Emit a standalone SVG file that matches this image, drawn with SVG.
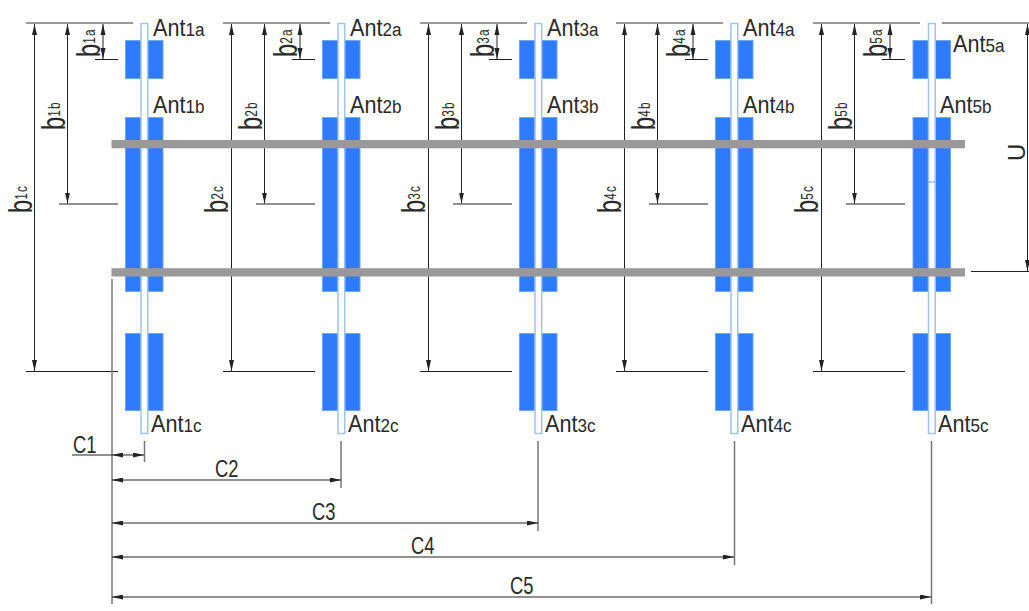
<svg xmlns="http://www.w3.org/2000/svg" width="1029" height="611" viewBox="0 0 1029 611">
<style>
text{font-family:"Liberation Sans",Arial,sans-serif;fill:#2a2a2a}
.a{font-size:24px}.s{font-size:19px}
.b{font-size:34px}.u{font-size:17px;letter-spacing:1.5px}
.c{font-size:23px}
.bl{fill:#2f7bff;stroke:#6ea5ff;stroke-width:1}
.st{fill:#fff;stroke:#9cc2ff;stroke-width:1.5}
.bar{fill:#999}
.e{stroke:#222;stroke-width:1;fill:none}
.g{stroke:#777;stroke-width:1.5;fill:none}
.d{stroke:#222;stroke-width:1;fill:none;marker-start:url(#ms);marker-end:url(#me)}
</style>
<defs>
<marker id="me" markerUnits="userSpaceOnUse" markerWidth="12" markerHeight="6" refX="11" refY="2.5" orient="auto"><path d="M0 0L11 2.5L0 5Z" fill="#222"/></marker>
<marker id="ms" markerUnits="userSpaceOnUse" markerWidth="12" markerHeight="6" refX="0" refY="2.5" orient="auto"><path d="M11 0L0 2.5L11 5Z" fill="#222"/></marker>
<g id="col">
<rect class="bl" x="125.5" y="40.5" width="37.5" height="38"/>
<rect class="bl" x="125.5" y="117.5" width="37.5" height="174"/>
<rect class="bl" x="125.5" y="333.5" width="37.5" height="77"/>
<rect class="st" x="141" y="23.5" width="6.7" height="410"/>
</g>
<g id="dim">
<path class="g" d="M26 23H133"/>
<path class="e" d="M95 59.5H118M59 204H118M26 371.5H118"/>
<path class="d" d="M103 24V59"/>
<path class="d" d="M67.5 24V203.5"/>
<path class="d" d="M34.5 24V371"/>
</g>
</defs>

<g id="connectors">
<use href="#dim"/>
<use href="#dim" x="197"/>
<use href="#dim" x="394"/>
<use href="#dim" x="590"/>
<use href="#dim" x="787"/>
<path class="g" d="M942 23H1029"/>
<path class="e" d="M971 271.5H1029"/>
<path class="d" d="M1027.5 24V271"/>
<path class="g" d="M112 279V604"/>
<path class="g" d="M144.5 441V462M341 441V488M538 441V531M734.5 441V565M931.5 441V604"/>
<path class="e" d="M72 455H112"/>
<path class="d" d="M112 455H144"/>
<path class="d" d="M112 480H341"/>
<path class="d" d="M112 523H538"/>
<path class="d" d="M112 557H734"/>
<path class="d" d="M112 597H931"/>
</g>

<g id="ant1"><use href="#col"/></g>
<g id="ant2"><use href="#col" x="197"/></g>
<g id="ant3"><use href="#col" x="394"/></g>
<g id="ant4"><use href="#col" x="590"/></g>
<g id="ant5"><use href="#col" x="787.5"/><path d="M928 182H935" stroke="#6ea5ff" stroke-width="1"/></g>

<g id="rails">
<rect class="bar" x="111.5" y="140" width="853.5" height="8.3"/>
<rect class="bar" x="111.5" y="268.2" width="853.5" height="8.3"/>
</g>

<g id="ant-labels">
<text class="a" transform="translate(153 36) scale(.9 1)">Ant<tspan class="s">1a</tspan></text>
<text class="a" transform="translate(153 113) scale(.9 1)">Ant<tspan class="s">1b</tspan></text>
<text class="a" transform="translate(151 432) scale(.9 1)">Ant<tspan class="s">1c</tspan></text>
<text class="a" transform="translate(350 36) scale(.9 1)">Ant<tspan class="s">2a</tspan></text>
<text class="a" transform="translate(350 113) scale(.9 1)">Ant<tspan class="s">2b</tspan></text>
<text class="a" transform="translate(348 432) scale(.9 1)">Ant<tspan class="s">2c</tspan></text>
<text class="a" transform="translate(547 36) scale(.9 1)">Ant<tspan class="s">3a</tspan></text>
<text class="a" transform="translate(547 113) scale(.9 1)">Ant<tspan class="s">3b</tspan></text>
<text class="a" transform="translate(545 432) scale(.9 1)">Ant<tspan class="s">3c</tspan></text>
<text class="a" transform="translate(743 36) scale(.9 1)">Ant<tspan class="s">4a</tspan></text>
<text class="a" transform="translate(743 113) scale(.9 1)">Ant<tspan class="s">4b</tspan></text>
<text class="a" transform="translate(741 432) scale(.9 1)">Ant<tspan class="s">4c</tspan></text>
<text class="a" transform="translate(953 52) scale(.9 1)">Ant<tspan class="s">5a</tspan></text>
<text class="a" transform="translate(940 113) scale(.9 1)">Ant<tspan class="s">5b</tspan></text>
<text class="a" transform="translate(938 432) scale(.9 1)">Ant<tspan class="s">5c</tspan></text>
</g>

<g id="dim-labels">
<text class="b" transform="translate(100 57) rotate(-90) scale(.7 1)">b<tspan class="u" dy="-5">1a</tspan></text>
<text class="b" transform="translate(65 130) rotate(-90) scale(.7 1)">b<tspan class="u" dy="-5">1b</tspan></text>
<text class="b" transform="translate(32 213) rotate(-90) scale(.7 1)">b<tspan class="u" dy="-5">1c</tspan></text>
<text class="b" transform="translate(297 57) rotate(-90) scale(.7 1)">b<tspan class="u" dy="-5">2a</tspan></text>
<text class="b" transform="translate(262 130) rotate(-90) scale(.7 1)">b<tspan class="u" dy="-5">2b</tspan></text>
<text class="b" transform="translate(228 213) rotate(-90) scale(.7 1)">b<tspan class="u" dy="-5">2c</tspan></text>
<text class="b" transform="translate(494 57) rotate(-90) scale(.7 1)">b<tspan class="u" dy="-5">3a</tspan></text>
<text class="b" transform="translate(459 130) rotate(-90) scale(.7 1)">b<tspan class="u" dy="-5">3b</tspan></text>
<text class="b" transform="translate(425 213) rotate(-90) scale(.7 1)">b<tspan class="u" dy="-5">3c</tspan></text>
<text class="b" transform="translate(690 57) rotate(-90) scale(.7 1)">b<tspan class="u" dy="-5">4a</tspan></text>
<text class="b" transform="translate(655 130) rotate(-90) scale(.7 1)">b<tspan class="u" dy="-5">4b</tspan></text>
<text class="b" transform="translate(621 213) rotate(-90) scale(.7 1)">b<tspan class="u" dy="-5">4c</tspan></text>
<text class="b" transform="translate(887 57) rotate(-90) scale(.7 1)">b<tspan class="u" dy="-5">5a</tspan></text>
<text class="b" transform="translate(852 130) rotate(-90) scale(.7 1)">b<tspan class="u" dy="-5">5b</tspan></text>
<text class="b" transform="translate(818 213) rotate(-90) scale(.7 1)">b<tspan class="u" dy="-5">5c</tspan></text>
<text class="c" transform="translate(1025 161) rotate(-90) scale(1.05 1)">U</text>
<text class="c" transform="translate(73 453) scale(.8 1)">C1</text>
<text class="c" transform="translate(215 477) scale(.8 1)">C2</text>
<text class="c" transform="translate(312 520) scale(.8 1)">C3</text>
<text class="c" transform="translate(411 554) scale(.8 1)">C4</text>
<text class="c" transform="translate(510 594) scale(.8 1)">C5</text>
</g>
</svg>
